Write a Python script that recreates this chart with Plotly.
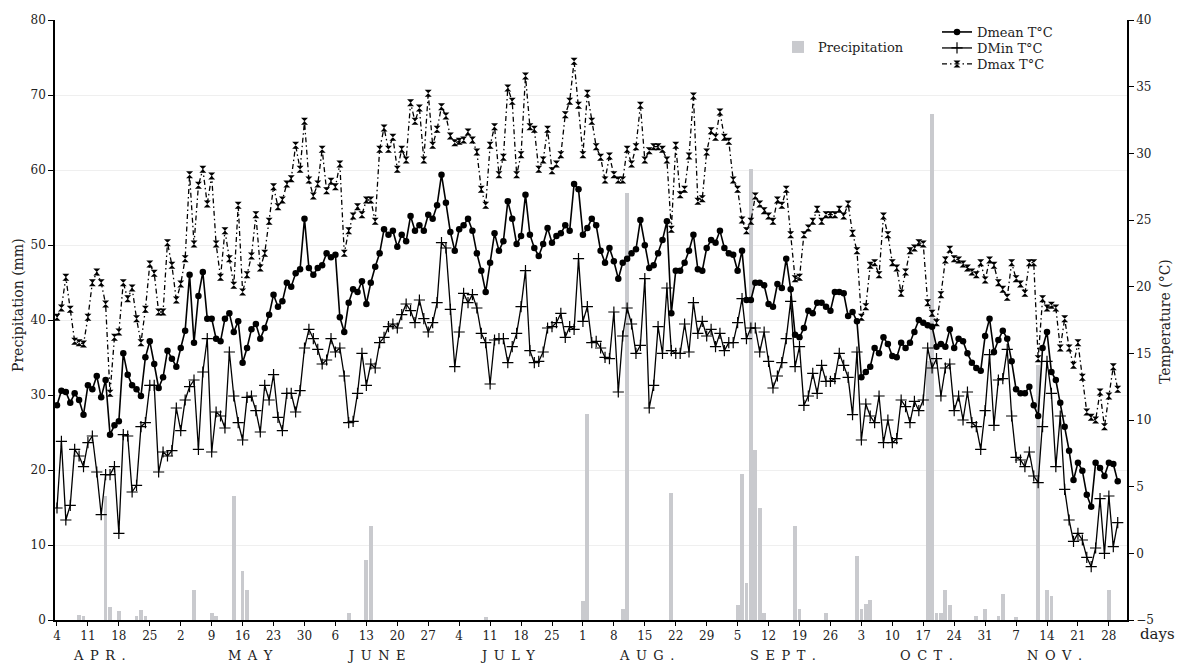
import plotly.graph_objects as go

# day index 0 = 4 April ... 240 = 30 November
day = list(range(241))

dmean = [
    11.1, 12.2, 12.1, 11.3, 12.0, 11.5, 10.4, 12.6, 12.3, 13.3,
    11.7, 13.0, 8.9, 9.6, 9.9, 15.0, 13.4, 12.6, 12.3, 11.8,
    14.7, 15.9, 14.2, 12.4, 13.2, 15.2, 14.6, 14.0, 15.4, 16.7,
    20.9, 15.8, 19.3, 21.1, 17.6, 17.6, 16.1, 15.9, 17.6, 18.0,
    16.6, 17.4, 14.3, 15.4, 16.8, 17.2, 16.1, 16.9, 17.9, 19.4,
    18.5, 18.9, 20.3, 20.0, 21.0, 21.3, 25.1, 21.4, 20.9, 21.4,
    21.6, 22.5, 22.2, 22.4, 17.7, 16.6, 18.8, 19.8, 19.6, 20.4,
    18.7, 20.3, 21.5, 22.5, 24.3, 23.9, 24.2, 23.0, 23.9, 23.4,
    25.3, 24.2, 24.6, 24.2, 25.4, 25.1, 26.1, 28.4, 26.3, 24.1,
    22.7, 24.3, 24.6, 25.1, 24.2, 22.5, 21.2, 19.6, 21.8, 24.0,
    22.7, 23.4, 26.4, 25.1, 23.2, 23.8, 26.9, 23.9, 22.9, 22.3,
    23.2, 24.4, 23.3, 23.8, 24.0, 24.6, 24.2, 27.7, 27.3, 23.9,
    24.4, 25.1, 24.6, 22.7, 21.8, 22.9, 21.9, 20.6, 21.8, 22.1,
    22.5, 22.8, 25.0, 23.1, 21.4, 21.6, 22.5, 23.5, 24.9, 18.0,
    21.2, 21.2, 21.8, 22.7, 23.9, 21.3, 21.2, 22.9, 23.5, 23.3,
    24.2, 22.9, 22.5, 22.4, 21.2, 22.7, 19.0, 19.0, 20.3, 20.3,
    20.1, 18.7, 18.5, 20.2, 19.9, 22.1, 19.8, 16.4, 16.2, 16.9,
    18.2, 18.0, 18.8, 18.8, 18.5, 18.2, 19.6, 19.6, 19.5, 17.8,
    18.1, 17.4, 13.2, 13.6, 14.0, 15.4, 15.0, 16.2, 15.7, 14.8,
    14.7, 15.8, 15.4, 15.8, 16.6, 17.5, 17.3, 17.1, 17.0, 15.5,
    15.7, 15.5, 16.8, 15.4, 16.1, 15.9, 15.0, 14.3, 13.9, 13.7,
    16.3, 17.6, 15.1, 16.0, 16.7, 16.1, 14.4, 12.3, 12.0, 12.0,
    12.5, 11.1, 10.3, 15.4, 16.6, 13.6, 13.0, 11.3, 9.5, 7.7,
    5.5, 6.8, 6.2, 4.4, 3.5, 6.8, 6.4, 5.8, 6.8, 6.7,
    5.4,
]

dmin = [
    3.4, 8.4, 2.5, 3.6, 7.8, 7.3, 6.5, 8.3, 8.8, 6.1,
    2.9, 5.9, 5.9, 6.5, 1.5, 8.9, 8.8, 4.6, 5.1, 9.5,
    9.8, 12.6, 12.6, 6.1, 7.6, 7.3, 7.7, 10.9, 9.2, 11.5,
    12.5, 13.0, 7.8, 13.6, 16.1, 7.6, 10.6, 10.3, 9.4, 15.1,
    11.8, 9.8, 8.5, 11.7, 11.8, 10.7, 9.1, 12.6, 11.5, 13.4,
    10.2, 9.2, 12.0, 12.0, 10.6, 12.2, 15.4, 16.8, 16.1, 15.3,
    14.2, 14.5, 16.1, 15.1, 15.4, 13.3, 9.8, 9.9, 12.0, 15.0,
    12.6, 14.2, 13.9, 15.8, 16.2, 17.0, 17.2, 16.9, 17.9, 18.7,
    18.2, 17.3, 19.0, 17.6, 16.6, 17.3, 18.8, 23.3, 22.9, 18.3,
    14.0, 16.6, 19.5, 18.8, 19.4, 18.4, 16.5, 15.8, 12.7, 16.0,
    16.1, 16.1, 14.3, 15.5, 16.5, 18.5, 21.2, 15.2, 14.3, 14.4,
    15.1, 16.9, 17.0, 17.3, 18.0, 16.2, 17.0, 16.8, 22.1, 17.4,
    18.5, 15.8, 15.9, 15.4, 14.7, 14.6, 18.1, 12.1, 16.3, 18.4,
    17.2, 15.0, 15.6, 20.6, 10.9, 12.6, 17.0, 15.0, 19.9, 15.2,
    15.0, 15.0, 17.2, 15.1, 18.8, 16.5, 17.4, 16.3, 16.8, 15.5,
    16.5, 15.2, 15.8, 15.8, 17.3, 19.1, 16.1, 16.9, 16.9, 15.1,
    16.6, 14.4, 12.4, 13.3, 14.3, 16.1, 18.9, 14.0, 15.5, 11.1,
    11.8, 13.5, 12.0, 14.1, 12.9, 12.9, 13.1, 15.0, 14.1, 13.2,
    10.4, 15.1, 8.5, 11.2, 10.3, 9.8, 11.8, 8.3, 10.0, 8.3,
    8.6, 11.5, 11.0, 9.8, 11.4, 10.7, 11.5, 15.4, 13.9, 14.6,
    11.8, 13.9, 14.2, 10.7, 11.8, 10.0, 12.1, 9.8, 9.5, 7.8,
    10.7, 14.9, 9.6, 13.0, 13.1, 15.3, 10.3, 7.2, 7.0, 6.5,
    7.6, 5.8, 5.3, 9.5, 14.4, 12.0, 6.5, 10.3, 4.8, 2.5,
    0.9, 1.5, 1.0, -0.3, -1.0, 0.4, 4.1, 0.0, 4.3, 0.5,
    2.3,
]

dmax = [
    17.7, 18.4, 20.7, 18.3, 15.9, 15.8, 15.7, 17.7, 20.3, 21.1,
    20.3, 18.7, 12.0, 16.2, 16.6, 20.3, 19.1, 19.9, 17.6, 15.8,
    18.3, 21.7, 21.0, 18.1, 18.1, 23.3, 21.6, 19.0, 20.2, 22.1,
    28.4, 23.2, 27.6, 28.8, 26.2, 28.3, 23.2, 20.7, 24.2, 22.1,
    20.1, 26.1, 19.6, 20.9, 22.3, 25.4, 21.4, 22.5, 24.9, 27.5,
    26.0, 26.5, 27.7, 28.1, 30.6, 28.8, 32.4, 28.0, 26.8, 27.7,
    30.3, 27.2, 27.9, 27.5, 29.2, 22.5, 24.2, 25.3, 26.0, 25.4,
    26.5, 26.5, 24.9, 30.3, 31.9, 30.3, 31.2, 28.8, 30.3, 29.5,
    33.8, 32.4, 33.4, 29.5, 34.5, 30.6, 31.8, 33.5, 32.8, 31.3,
    30.8, 30.9, 31.0, 31.6, 31.0, 30.1, 27.3, 26.1, 30.6, 32.0,
    28.4, 29.7, 34.9, 33.9, 28.4, 29.9, 35.8, 32.0, 31.8, 28.8,
    29.5, 31.8, 28.7, 29.2, 29.9, 32.9, 33.9, 36.9, 33.6, 29.9,
    34.5, 32.4, 30.5, 29.7, 28.0, 29.8, 28.4, 28.0, 28.0, 30.3,
    29.2, 30.5, 33.6, 29.5, 30.2, 30.5, 30.5, 30.3, 29.5, 24.3,
    30.6, 26.9, 27.3, 29.8, 34.3, 26.4, 26.6, 30.1, 31.7, 31.2,
    33.1, 31.2, 30.9, 28.0, 27.3, 25.0, 24.2, 24.9, 26.8, 26.2,
    25.7, 25.3, 24.9, 26.5, 26.1, 27.3, 23.9, 20.6, 20.7, 23.9,
    24.4, 24.9, 25.8, 24.9, 25.4, 25.4, 25.4, 25.8, 25.3, 26.2,
    24.0, 22.7, 17.7, 18.5, 21.6, 21.8, 20.9, 25.3, 23.9, 21.8,
    21.4, 19.5, 21.1, 22.7, 22.9, 23.3, 23.2, 18.8, 18.0, 17.3,
    19.4, 22.0, 22.8, 22.1, 22.0, 21.7, 21.4, 21.1, 20.9, 21.8,
    20.5, 22.0, 21.6, 20.3, 19.8, 19.2, 21.8, 20.6, 20.2, 19.5,
    21.8, 21.8, 14.6, 19.1, 18.4, 18.6, 18.4, 15.4, 17.6, 15.4,
    14.1, 15.8, 13.2, 10.6, 10.2, 10.0, 12.1, 9.5, 11.8, 14.0,
    12.3,
]

rain_day = [5, 6, 11, 12, 14, 18, 19, 20, 31, 35, 36, 40, 42, 43, 66, 70, 71, 97,
            119, 120, 128, 129, 139, 154, 155, 156, 157, 158, 159, 160, 167, 168,
            174, 181, 182, 183, 184, 197, 198, 199, 200, 201, 202, 208, 210, 213,
            214, 217, 222, 224, 225, 238]
rain_mm = [0.7, 0.5, 16.5, 1.8, 1.2, 0.6, 1.3, 0.5, 4.0, 1.0, 0.5, 16.6, 6.5, 4.0, 1.0, 8.0, 12.5, 0.4,
           2.5, 27.5, 1.5, 57.0, 17.0, 2.0, 19.5, 5.0, 60.2, 22.7, 15.0, 1.0, 12.5, 1.5,
           1.0, 8.5, 1.5, 2.2, 2.7, 34.5, 67.5, 1.0, 1.0, 4.0, 2.0, 0.5, 1.5, 0.5,
           3.5, 0.4, 34.0, 4.0, 3.2, 4.0]

tick_day = list(range(0, 239, 7))
tick_text = ["4", "11", "18", "25", "2", "9", "16", "23", "30", "6", "13", "20", "27",
             "4", "11", "18", "25", "1", "8", "15", "22", "29", "5", "12", "19", "26",
             "3", "10", "17", "24", "31", "7", "14", "21", "28"]
SP = "\u2002"
months = [SP.join("APR."), SP.join("MAY"), SP.join("JUNE"), SP.join("JULY"),
          SP.join("AUG."), SP.join("SEPT."), SP.join("OCT."), SP.join("NOV.")]
month_pos = [9.7, 43.7, 72.2, 102, 133.3, 164.3, 196.8, 225.8]

FONT = "DejaVu Serif, Liberation Serif, serif"
TXT = "#222"

# page has an 8px body margin: plot area sits at page x 55..1127, y 20..620
W, H = 1175, 655
PL, PT, PW, PH = 47, 12, 1072, 600


def px(x_page):
    return (x_page - 8 - PL) / PW


def py(y_page):
    return 1 - (y_page - 8 - PT) / PH


fig = go.Figure()
fig.add_trace(go.Bar(
    x=rain_day, y=rain_mm, name="Precipitation", yaxis="y",
    marker=dict(color="#c9cace", line=dict(width=0)), width=0.85, legend="legend",
))
fig.add_trace(go.Scatter(
    x=day, y=dmean, name="Dmean T\u00b0C", yaxis="y2", mode="lines+markers",
    line=dict(color="black", width=1.6),
    marker=dict(symbol="circle", size=6.5, color="black"), legend="legend2",
))
fig.add_trace(go.Scatter(
    x=day, y=dmin, name="DMin T\u00b0C", yaxis="y2", mode="lines+markers",
    line=dict(color="black", width=1.3),
    marker=dict(symbol="cross-thin", size=8, color="black", line=dict(color="black", width=1.2)),
    legend="legend3",
))
fig.add_trace(go.Scatter(
    x=day, y=dmax, name="Dmax T\u00b0C", yaxis="y2", mode="lines+markers",
    line=dict(color="black", width=1.3, dash="5px,3px,1.5px,3px"),
    marker=dict(symbol="hourglass", size=7, color="black"), legend="legend4",
))

annotations = []
for m, p in zip(months, month_pos):
    annotations.append(dict(x=p, y=py(655), xref="x", yref="paper", text=m, showarrow=False,
                            font=dict(family=FONT, size=13, color=TXT), xanchor="center", yanchor="middle"))
annotations.append(dict(x=px(1157), y=py(634), xref="paper", yref="paper", text="days", showarrow=False,
                        font=dict(family=FONT, size=15, color=TXT), xanchor="center", yanchor="middle"))
annotations.append(dict(x=px(18), y=py(305), xref="paper", yref="paper", text="Precipitation (mm)",
                        textangle=-90, showarrow=False, font=dict(family=FONT, size=14, color=TXT),
                        xanchor="center", yanchor="middle"))
annotations.append(dict(x=px(1165), y=py(322), xref="paper", yref="paper", text="Temperature (\u00b0C)",
                        textangle=-90, showarrow=False, font=dict(family=FONT, size=14, color=TXT),
                        xanchor="center", yanchor="middle"))

leg_common = dict(xanchor="left", yanchor="middle", bgcolor="rgba(0,0,0,0)")

fig.update_layout(
    width=W, height=H,
    margin=dict(l=PL, r=W - PL - PW, t=PT, b=H - PT - PH, autoexpand=False),
    paper_bgcolor="white", plot_bgcolor="white",
    font=dict(family=FONT, size=12, color=TXT),
    bargap=0,
    xaxis=dict(range=[-0.45, 242.1], tickvals=tick_day, ticktext=tick_text, ticks="outside",
               ticklen=4, tickcolor="black", showline=True, linecolor="black", linewidth=1.5,
               showgrid=False, zeroline=False, tickfont=dict(family=FONT, size=12, color=TXT)),
    yaxis=dict(range=[0, 80], dtick=10, ticks="outside", ticklen=5, tickcolor="black",
               showline=True, linecolor="black", linewidth=1.5, showgrid=True,
               gridcolor="#efefef", gridwidth=1, zeroline=False,
               tickfont=dict(family=FONT, size=12, color=TXT)),
    yaxis2=dict(range=[-5, 40], dtick=5, overlaying="y", side="right", ticks="outside",
                ticklen=5, tickcolor="black", showline=True, linecolor="black", linewidth=1.5,
                showgrid=False, zeroline=False, tickfont=dict(family=FONT, size=12, color=TXT)),
    legend=dict(x=px(778), y=py(47), font=dict(family=FONT, size=13, color=TXT), **leg_common),
    legend2=dict(x=px(937), y=py(32), font=dict(family=FONT, size=13, color=TXT), **leg_common),
    legend3=dict(x=px(937), y=py(48), font=dict(family=FONT, size=13, color=TXT), **leg_common),
    legend4=dict(x=px(937), y=py(64), font=dict(family=FONT, size=13, color=TXT), **leg_common),
    annotations=annotations,
    showlegend=True,
)

fig.write_html("out.html")
